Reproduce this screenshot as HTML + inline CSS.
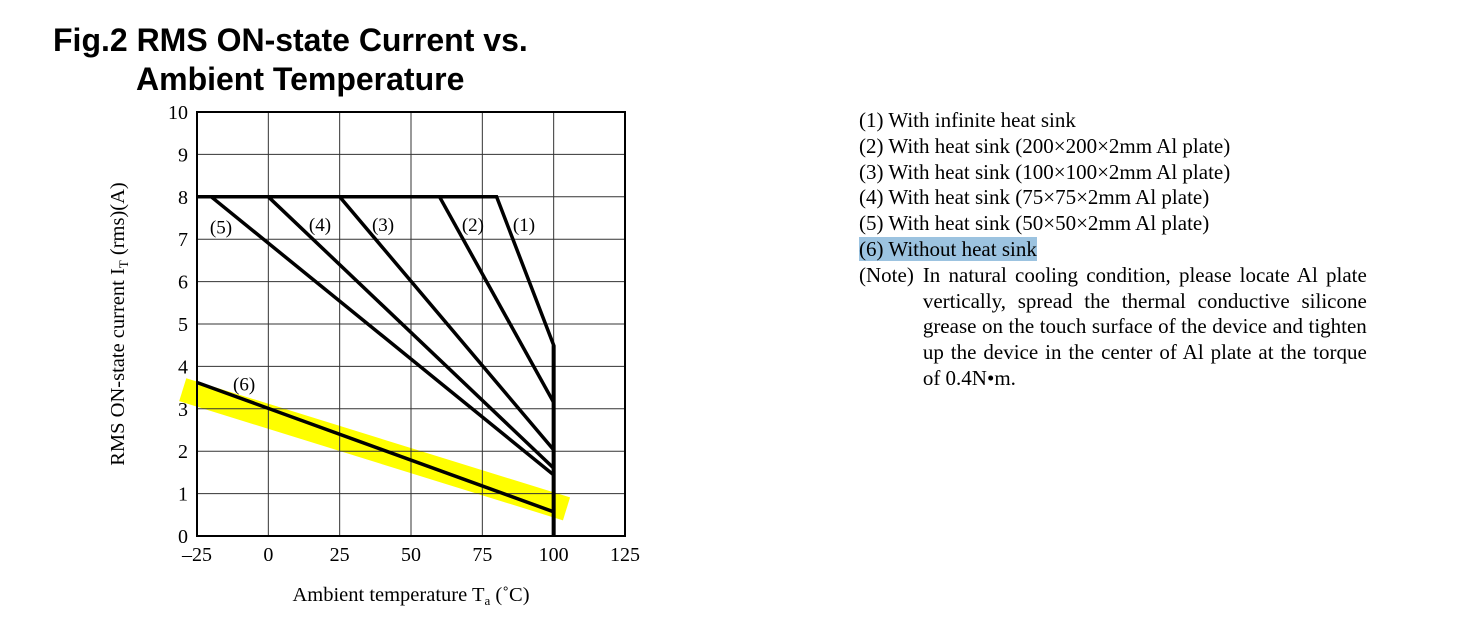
<!DOCTYPE html>
<html><head><meta charset="utf-8"><style>
body{margin:0;background:#fff;width:1459px;height:621px;overflow:hidden;position:relative;font-family:"Liberation Serif",serif}
.title{position:absolute;left:53px;top:21px;font:bold 32px "Liberation Sans",sans-serif;line-height:39px;color:#000}
.leg{position:absolute;left:859px;top:108px;font-size:21px;line-height:25.8px;color:#000}
.leg div{white-space:nowrap}
.hl{background:#9cc3e0}
.note{display:flex}
.note .txt{width:444px;text-align:justify;margin-left:9px;white-space:normal}
</style></head><body>
<div class="title">Fig.2 RMS ON-state Current vs.<br><span style="padding-left:83px">Ambient Temperature</span></div>
<svg id="chart" width="1459" height="621" style="position:absolute;left:0;top:0"></svg>
<div class="leg">
<div>(1) With infinite heat sink</div>
<div>(2) With heat sink (200×200×2mm Al plate)</div>
<div>(3) With heat sink (100×100×2mm Al plate)</div>
<div>(4) With heat sink (75×75×2mm Al plate)</div>
<div>(5) With heat sink (50×50×2mm Al plate)</div>
<div><span class="hl">(6) Without heat sink</span></div>
<div class="note"><span>(Note)</span><span class="txt">In natural cooling condition, please locate Al plate vertically, spread the thermal conductive silicone grease on the touch surface of the device and tighten up the device in the center of Al plate at the torque of 0.4N•m.</span></div>
</div>
<script>
const xTicks=[-25,0,25,50,75,100,125];
const yTicks=[0,1,2,3,4,5,6,7,8,9,10];
const curveNames=['(1)','(2)','(3)','(4)','(5)','(6)'];
const curve1X=[-25,80,100,100];const curve1Y=[8,8,4.5,0];
const curve2X=[60,100];const curve2Y=[8,3.15];
const curve3X=[25,100];const curve3Y=[8,2.03];
const curve4X=[0,100];const curve4Y=[8,1.6];
const curve5X=[-20,100];const curve5Y=[8,1.44];
const curve6X=[-25,100];const curve6Y=[3.62,0.57];
const highlightX=[-30,104.5];const highlightY=[3.45,0.64];
const labelX=[89.6,71.7,40.2,18.1,-16.6,-8.5];const labelY=[7.36,7.36,7.36,7.36,7.3,3.6];

const svg=document.getElementById('chart');const NS='http://www.w3.org/2000/svg';
const X0=197,X1=625,Y0=536,Y1=112;
const sx=v=>X0+(v+25)/150*(X1-X0);
const sy=v=>Y0-v/10*(Y0-Y1);
function mk(t,a){const e=document.createElementNS(NS,t);for(const k in a)e.setAttribute(k,a[k]);svg.appendChild(e);return e;}
const hp=highlightX.map((x,i)=>sx(x)+','+sy(highlightY[i])).join(' ');
let h=mk('polyline',{points:hp,fill:'none',stroke:'#ffff00','stroke-width':24});


xTicks.forEach(t=>{const l=mk('line',{x1:sx(t),x2:sx(t),y1:Y1,y2:Y0,stroke:'#333','stroke-width':1});


const tx=mk('text',{x:sx(t),y:561,'text-anchor':'middle','font-size':20,'font-family':'Liberation Serif'});tx.textContent=t<0?'–'+(-t):t;

});
yTicks.forEach(t=>{const l=mk('line',{x1:X0,x2:X1,y1:sy(t),y2:sy(t),stroke:'#333','stroke-width':1});


const tx=mk('text',{x:188,y:sy(t)+7,'text-anchor':'end','font-size':20,'font-family':'Liberation Serif'});tx.textContent=t;

});
const fr=mk('rect',{x:X0,y:Y1,width:X1-X0,height:Y0-Y1,fill:'none',stroke:'#000','stroke-width':2});


const xs=[curve1X,curve2X,curve3X,curve4X,curve5X,curve6X],ys=[curve1Y,curve2Y,curve3Y,curve4Y,curve5Y,curve6Y];
xs.forEach((cx,k)=>{const p=mk('polyline',{points:cx.map((x,i)=>sx(x)+','+sy(ys[k][i])).join(' '),fill:'none',stroke:'#000','stroke-width':3.5});


const t=mk('text',{x:sx(labelX[k]),y:sy(labelY[k])+7,'text-anchor':'middle','font-size':19,'font-family':'Liberation Serif'});t.textContent=curveNames[k];

});
const v=mk('line',{x1:sx(100),x2:sx(100),y1:sy(4.5),y2:Y0,stroke:'#000','stroke-width':4});


const xt=mk('text',{x:411,y:601,'text-anchor':'middle','font-size':20.5,'font-family':'Liberation Serif'});
xt.innerHTML='Ambient temperature T<tspan font-size="13" dy="4">a</tspan><tspan dy="-4"> (˚C)</tspan>';


const yt=mk('text',{x:0,y:0,'text-anchor':'middle','font-size':20.5,'font-family':'Liberation Serif',transform:'translate(124,324) rotate(-90)'});
yt.innerHTML='RMS ON-state current I<tspan font-size="13" dy="4">T</tspan><tspan dy="-4"> (rms)(A)</tspan>';


</script>
</body></html>
